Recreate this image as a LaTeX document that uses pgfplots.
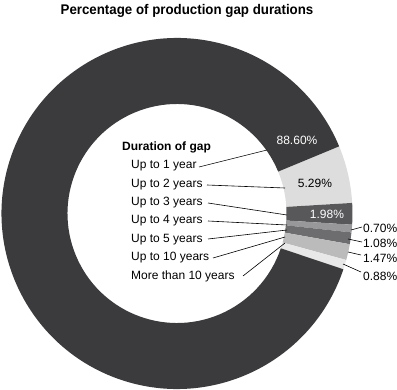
\documentclass[border=0pt]{standalone}
\usepackage{pgfplots}
\pgfplotsset{compat=1.18}
\usepackage{pgfplotstable}
\usepackage{fontspec}
\setmainfont{Liberation Sans}
\newfontfamily\titlefont{Liberation Sans}[FakeStretch=0.95]
\definecolor{sA}{HTML}{DDDDDD}
\definecolor{sB}{HTML}{58585A}
\definecolor{sC}{HTML}{98989A}
\definecolor{sD}{HTML}{6D6D6F}
\definecolor{sE}{HTML}{BBBBBB}
\definecolor{sF}{HTML}{E8E8E8}
\definecolor{sG}{HTML}{3B3B3D}
\pgfplotstableread{
label value
{Up to 2 years} 5.29
{Up to 3 years} 1.98
{Up to 4 years} 0.70
{Up to 5 years} 1.08
{Up to 10 years} 1.47
{More than 10 years} 0.88
{Up to 1 year} 88.60
}\gaps
\newcommand{\donutseg}[3]{%
  \fill[#3] ([shift={(#1:175.5bp)}]axis cs:177,176.5) arc[start angle=#1, end angle=#2, radius=175.5bp]
    -- ([shift={(#2:109.5bp)}]axis cs:177,176.5) arc[start angle=#2, end angle=#1, radius=109.5bp] -- cycle;}
\newcommand{\lf}{\fontsize{12bp}{14bp}\selectfont}
\begin{document}
\begin{tikzpicture}
\pgfmathsetmacro\aA{22.5}
\pgfplotstablegetelem{0}{value}\of\gaps \pgfmathsetmacro\aB{\aA-3.6*\pgfplotsretval}
\pgfplotstablegetelem{1}{value}\of\gaps \pgfmathsetmacro\aC{\aB-3.6*\pgfplotsretval}
\pgfplotstablegetelem{2}{value}\of\gaps \pgfmathsetmacro\aD{\aC-3.6*\pgfplotsretval}
\pgfplotstablegetelem{3}{value}\of\gaps \pgfmathsetmacro\aE{\aD-3.6*\pgfplotsretval}
\pgfplotstablegetelem{4}{value}\of\gaps \pgfmathsetmacro\aF{\aE-3.6*\pgfplotsretval}
\pgfplotstablegetelem{5}{value}\of\gaps \pgfmathsetmacro\aG{\aF-3.6*\pgfplotsretval}
\pgfplotstablegetelem{6}{value}\of\gaps \pgfmathsetmacro\aH{\aG-3.6*\pgfplotsretval}
\begin{axis}[name=ax, width=397bp, height=390bp, scale only axis,
  xmin=0, xmax=397, ymin=0, ymax=390, hide axis, clip=false]
\addplot[draw=none] coordinates {(0,0) (397,390)};
\donutseg{\aA}{\aB}{sA}
\donutseg{\aB}{\aC}{sB}
\donutseg{\aC}{\aD}{sC}
\donutseg{\aD}{\aE}{sD}
\donutseg{\aE}{\aF}{sE}
\donutseg{\aF}{\aG}{sF}
\donutseg{\aG}{\aH}{sG}
% title
\node[font=\titlefont\bfseries\fontsize{14bp}{16bp}\selectfont] at (axis cs:187,379) {Percentage of production gap durations};
% percentage labels
\node[font=\lf, text=white] at (axis cs:297,250) {88.60\%};
\node[font=\lf] at (axis cs:315,207) {5.29\%};
\node[font=\lf, text=white] at (axis cs:327,176) {1.98\%};
\node[font=\lf, anchor=west, inner sep=0pt] at (axis cs:363,162) {0.70\%};
\node[font=\lf, anchor=west, inner sep=0pt] at (axis cs:363,147) {1.08\%};
\node[font=\lf, anchor=west, inner sep=0pt] at (axis cs:363,132) {1.47\%};
\node[font=\lf, anchor=west, inner sep=0pt] at (axis cs:363,114) {0.88\%};
\draw[line width=0.6bp] (axis cs:362,163) -- (axis cs:351,160);
\draw[line width=0.6bp] (axis cs:362,148) -- (axis cs:348,151);
\draw[line width=0.6bp] (axis cs:361,135) -- (axis cs:348,138);
\draw[line width=0.6bp] (axis cs:361,118) -- (axis cs:343,126);
% legend
\node[font=\bfseries\lf, anchor=west, inner sep=0pt] at (axis cs:122,243) {Duration of gap};
\node[font=\lf, anchor=west, inner sep=0pt] at (axis cs:131,224) {Up to 1 year};
\node[font=\lf, anchor=west, inner sep=0pt] at (axis cs:131,205.5) {Up to 2 years};
\node[font=\lf, anchor=west, inner sep=0pt] at (axis cs:131,187) {Up to 3 years};
\node[font=\lf, anchor=west, inner sep=0pt] at (axis cs:131,169) {Up to 4 years};
\node[font=\lf, anchor=west, inner sep=0pt] at (axis cs:131,150.5) {Up to 5 years};
\node[font=\lf, anchor=west, inner sep=0pt] at (axis cs:131,132) {Up to 10 years};
\node[font=\lf, anchor=west, inner sep=0pt] at (axis cs:131,114) {More than 10 years};
\draw[line width=0.6bp] (axis cs:199,223) -- (axis cs:267,240);
\draw[line width=0.6bp] (axis cs:207,205) -- (axis cs:285,202);
\draw[line width=0.6bp] (axis cs:208,187) -- (axis cs:287,175);
\draw[line width=0.6bp] (axis cs:208,169) -- (axis cs:287,165);
\draw[line width=0.6bp] (axis cs:208,151) -- (axis cs:287,160);
\draw[line width=0.6bp] (axis cs:213,132) -- (axis cs:285,153);
\draw[line width=0.6bp] (axis cs:243,114) -- (axis cs:285,147);
\end{axis}
\pgfresetboundingbox
\path (ax.south west) rectangle (ax.north east);
\end{tikzpicture}
\end{document}
